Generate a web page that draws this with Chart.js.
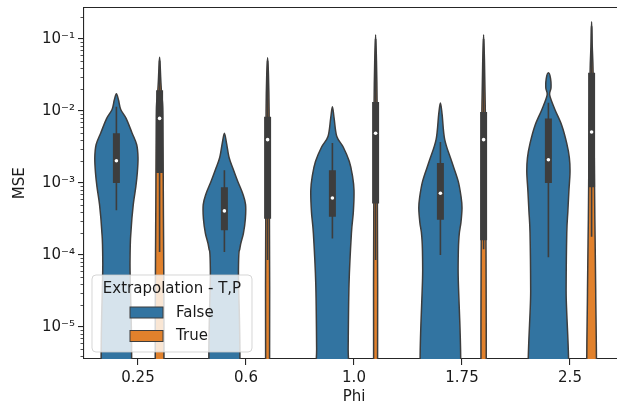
<!DOCTYPE html>
<html>
<head>
<meta charset="utf-8">
<script src="https://cdn.jsdelivr.net/npm/chart.js@4.4.1/dist/chart.umd.min.js"></script>
<style>
  html, body { margin: 0; padding: 0; background: #fff; overflow: hidden; width: 617px; height: 405px; }
  #wrap { width: 630px; height: 405px; }
</style>
</head>
<body>
<div id="wrap"><canvas id="c" width="630" height="405"></canvas></div>
<script>
// Categories and hue groups
const phi = ['0.25', '0.6', '1.0', '1.75', '2.5'];
const hues = ['False', 'True'];
const yTicks = [1e-5, 1e-4, 1e-3, 1e-2, 1e-1];

// Violin outlines: MSE levels (top to bottom) and relative half-widths (1 = full dodge width)
const falseLevels = [
  [0.0174, 0.0141, 0.0105, 0.0079, 0.0050, 0.0034, 0.00224, 0.00141, 0.00089, 0.0005, 0.000224, 7.9e-5, 1e-6],
  [0.0049, 0.00355, 0.00224, 0.00158, 0.00105, 0.00071, 0.0005, 0.000316, 0.0002, 0.000126, 6.3e-5, 1e-6],
  [0.0115, 0.0079, 0.00447, 0.00316, 0.002, 0.00126, 0.00079, 0.0004, 0.0002, 4e-5, 5e-6, 1e-6],
  [0.0129, 0.0089, 0.004, 0.002, 0.00107, 0.00063, 0.000447, 0.000282, 0.000178, 6.3e-5, 1e-6],
  [0.0339, 0.0282, 0.0209, 0.0166, 0.0105, 0.0063, 0.00355, 0.00224, 0.00141, 0.00079, 0.0004, 0.0002, 3.2e-5, 1e-6]
];
const falseWidths = [
  [0, 0.1, 0.2, 0.45, 0.72, 0.94, 1.0, 0.97, 0.9, 0.78, 0.68, 0.63, 0.62],
  [0, 0.1, 0.22, 0.4, 0.62, 0.85, 0.98, 0.97, 0.88, 0.72, 0.65, 0.63],
  [0, 0.08, 0.2, 0.5, 0.78, 0.93, 1.0, 0.97, 0.88, 0.77, 0.73, 0.72],
  [0, 0.08, 0.2, 0.52, 0.82, 0.96, 1.0, 0.95, 0.86, 0.82, 0.82],
  [0, 0.1, 0.12, 0.06, 0.3, 0.62, 0.85, 0.97, 1.0, 0.95, 0.9, 0.85, 0.82, 0.82]
];
const trueLevels = [
  [0.056, 0.04, 0.025, 0.0158, 0.01, 0.001, 1e-6],
  [0.055, 0.0316, 0.01, 0.001, 1e-6],
  [0.115, 0.05, 0.0126, 0.001, 1e-6],
  [0.115, 0.05, 0.01, 0.001, 1e-6],
  [0.174, 0.079, 0.034, 0.00316, 0.000316, 3.2e-5, 1e-6]
];
const trueWidths = [
  [0, 0.03, 0.06, 0.1, 0.15, 0.17, 0.18],
  [0, 0.04, 0.07, 0.08, 0.09],
  [0, 0.04, 0.07, 0.08, 0.09],
  [0, 0.04, 0.08, 0.1, 0.11],
  [0, 0.03, 0.07, 0.12, 0.15, 0.19, 0.2]
];

// Inner box statistics
const falseMedian = [0.00204, 0.00041, 0.00062, 0.00072, 0.0021];
const falseQ1     = [0.001, 0.00022, 0.00034, 0.00031, 0.001];
const falseQ3     = [0.0049, 0.00087, 0.0015, 0.0019, 0.0079];
const falseLow    = [0.00042, 0.00011, 0.00017, 0.0001, 9.3e-5];
const falseHigh   = [0.0115, 0.0015, 0.0036, 0.0037, 0.013];
const trueMedian  = [0.0079, 0.004, 0.0049, 0.004, 0.0051];
const trueQ1      = [0.00138, 0.00032, 0.00052, 0.00016, 0.00087];
const trueQ3      = [0.0195, 0.0083, 0.0133, 0.0097, 0.034];
const trueLow     = [0.00011, 8.5e-5, 8.5e-5, 0.00012, 0.00018];
const trueHigh    = [0.05, 0.05, 0.1, 0.1, 0.15];

const colors = { False: '#3274a1', True: '#e1812c' };
const gray = '#3d3d3d';
const dodge = 0.2;   // centre offset of each hue within a category
const halfMax = 0.2; // widest half-width of a violin, in category units
const FONT = 'DejaVu Sans';
const FS = 15;

const groups = [
  { name: 'False', off: -dodge, levels: falseLevels, widths: falseWidths, med: falseMedian, q1: falseQ1, q3: falseQ3, lo: falseLow, hi: falseHigh },
  { name: 'True',  off:  dodge, levels: trueLevels,  widths: trueWidths,  med: trueMedian,  q1: trueQ1,  q3: trueQ3,  lo: trueLow,  hi: trueHigh }
];

function closedSmooth(ctx, pts) {
  const n = pts.length;
  ctx.moveTo(pts[0].x, pts[0].y);
  for (let i = 0; i < n; i++) {
    const p0 = pts[(i - 1 + n) % n], p1 = pts[i], p2 = pts[(i + 1) % n], p3 = pts[(i + 2) % n];
    const t = 1 / 6;
    ctx.bezierCurveTo(p1.x + (p2.x - p0.x) * t, p1.y + (p2.y - p0.y) * t,
                      p2.x - (p3.x - p1.x) * t, p2.y - (p3.y - p1.y) * t, p2.x, p2.y);
  }
  ctx.closePath();
}

const violinPlugin = {
  id: 'violins',
  beforeDatasetsDraw(chart) {
    const { ctx, chartArea: a, scales: { x, y } } = chart;
    ctx.save();
    ctx.beginPath();
    ctx.rect(a.left, a.top, a.right - a.left, a.bottom - a.top);
    ctx.clip();
    phi.forEach((_, i) => {
      groups.forEach(g => {
        const cx = i + g.off;
        const lv = g.levels[i], w = g.widths[i];
        const left = lv.map((m, j) => ({ x: x.getPixelForValue(cx - w[j] * halfMax), y: y.getPixelForValue(m) }));
        const right = lv.map((m, j) => ({ x: x.getPixelForValue(cx + w[j] * halfMax), y: y.getPixelForValue(m) })).reverse();
        const pts = left.concat(right.slice(0, right.length - 1));
        ctx.beginPath();
        closedSmooth(ctx, pts);
        ctx.fillStyle = colors[g.name];
        ctx.fill();
        ctx.lineWidth = 1.5;
        ctx.strokeStyle = gray;
        ctx.lineJoin = 'round';
        ctx.stroke();

        const px = x.getPixelForValue(cx);
        ctx.lineCap = 'butt';
        ctx.strokeStyle = gray;
        ctx.lineWidth = 1.6;
        ctx.beginPath();
        ctx.moveTo(px, y.getPixelForValue(g.lo[i]));
        ctx.lineTo(px, y.getPixelForValue(g.hi[i]));
        ctx.stroke();
        ctx.lineWidth = 7;
        ctx.beginPath();
        ctx.moveTo(px, y.getPixelForValue(g.q1[i]));
        ctx.lineTo(px, y.getPixelForValue(g.q3[i]));
        ctx.stroke();
      });
    });
    ctx.restore();
  },
  afterDatasetsDraw(chart) {
    const { ctx, chartArea: a, scales: { y } } = chart;
    ctx.save();
    // top and right spines
    ctx.strokeStyle = '#262626';
    ctx.lineWidth = 1.1;
    ctx.beginPath();
    ctx.moveTo(a.left, a.top);
    ctx.lineTo(a.right, a.top);
    ctx.lineTo(a.right, a.bottom);
    ctx.stroke();
    // minor ticks on the log axis
    ctx.lineWidth = 0.8;
    ctx.beginPath();
    for (let e = -6; e <= 0; e++) {
      for (let k = 2; k <= 9; k++) {
        const v = k * Math.pow(10, e);
        if (v < y.min || v > y.max) continue;
        const py = Math.round(y.getPixelForValue(v)) + 0.5;
        ctx.moveTo(a.left, py);
        ctx.lineTo(a.left - 3.5, py);
      }
    }
    ctx.stroke();

    // legend
    const lx = 92, ly = 275, lw = 160, lh = 77, r = 4;
    ctx.beginPath();
    ctx.moveTo(lx + r, ly);
    ctx.arcTo(lx + lw, ly, lx + lw, ly + lh, r);
    ctx.arcTo(lx + lw, ly + lh, lx, ly + lh, r);
    ctx.arcTo(lx, ly + lh, lx, ly, r);
    ctx.arcTo(lx, ly, lx + lw, ly, r);
    ctx.closePath();
    ctx.fillStyle = 'rgba(255,255,255,0.8)';
    ctx.fill();
    ctx.strokeStyle = 'rgba(204,204,204,0.8)';
    ctx.lineWidth = 1;
    ctx.stroke();
    ctx.fillStyle = '#1a1a1a';
    ctx.font = FS + 'px "' + FONT + '"';
    ctx.textAlign = 'center';
    ctx.textBaseline = 'middle';
    ctx.fillText('Extrapolation - T,P', lx + lw / 2, 289.5);
    ctx.textAlign = 'left';
    hues.forEach((h, k) => {
      const yy = 307 + k * 23.5;
      ctx.fillStyle = colors[h];
      ctx.fillRect(130, yy, 33, 11);
      ctx.strokeStyle = gray;
      ctx.lineWidth = 1;
      ctx.strokeRect(130, yy, 33, 11);
      ctx.fillStyle = '#1a1a1a';
      ctx.fillText(h, 176, yy + 6);
    });
    ctx.restore();
  }
};

const sup = { '-': '\u207B', '0': '\u2070', '1': '\u00B9', '2': '\u00B2', '3': '\u00B3', '4': '\u2074', '5': '\u2075', '6': '\u2076', '7': '\u2077', '8': '\u2078', '9': '\u2079' };
function powLabel(v) {
  const e = String(Math.round(Math.log10(v)));
  return '10' + e.split('').map(c => sup[c]).join('');
}

const medianSets = groups.map(g => ({
  label: g.name,
  data: phi.map((_, i) => ({ x: i + g.off, y: g.med[i] })),
  pointRadius: 1.8,
  pointHoverRadius: 1.8,
  pointBackgroundColor: '#ffffff',
  pointBorderWidth: 0,
  showLine: false
}));

Chart.defaults.font.family = FONT;
Chart.defaults.color = '#1a1a1a';

new Chart(document.getElementById('c'), {
  type: 'scatter',
  data: { datasets: medianSets },
  options: {
    responsive: false,
    animation: false,
    events: [],
    layout: { padding: { top: 7.5, right: 6, left: 0, bottom: 0 } },
    plugins: { legend: { display: false }, tooltip: { enabled: false } },
    scales: {
      x: {
        type: 'linear',
        min: -0.5,
        max: 4.5,
        afterBuildTicks: s => { s.ticks = phi.map((_, i) => ({ value: i })); },
        afterFit: s => { s.height = 46; s.paddingLeft = 0; s.paddingRight = 0; },
        ticks: { callback: v => phi[v], font: { size: FS }, padding: 4, maxRotation: 0, autoSkip: false },
        grid: { drawOnChartArea: false, drawTicks: true, tickLength: 6, color: '#262626', lineWidth: 1.1 },
        border: { display: true, color: '#262626', width: 1.1 },
        title: { display: true, text: 'Phi', font: { size: FS, lineHeight: 1 }, padding: { top: 0, bottom: 0 } }
      },
      y: {
        type: 'logarithmic',
        min: Math.pow(10, -5.444),
        max: Math.pow(10, -0.5625),
        afterBuildTicks: s => { s.ticks = yTicks.map(v => ({ value: v })); },
        afterFit: s => { s.width = 84; s.paddingTop = 0; s.paddingBottom = 0; },
        ticks: { callback: v => powLabel(v), font: { size: FS }, padding: 3 },
        grid: { drawOnChartArea: false, drawTicks: true, tickLength: 6, color: '#262626', lineWidth: 1.1 },
        border: { display: true, color: '#262626', width: 1.1 },
        title: { display: true, text: 'MSE', font: { size: FS }, padding: { top: 11, bottom: 0 } }
      }
    }
  },
  plugins: [violinPlugin]
});
</script>
</body>
</html>
